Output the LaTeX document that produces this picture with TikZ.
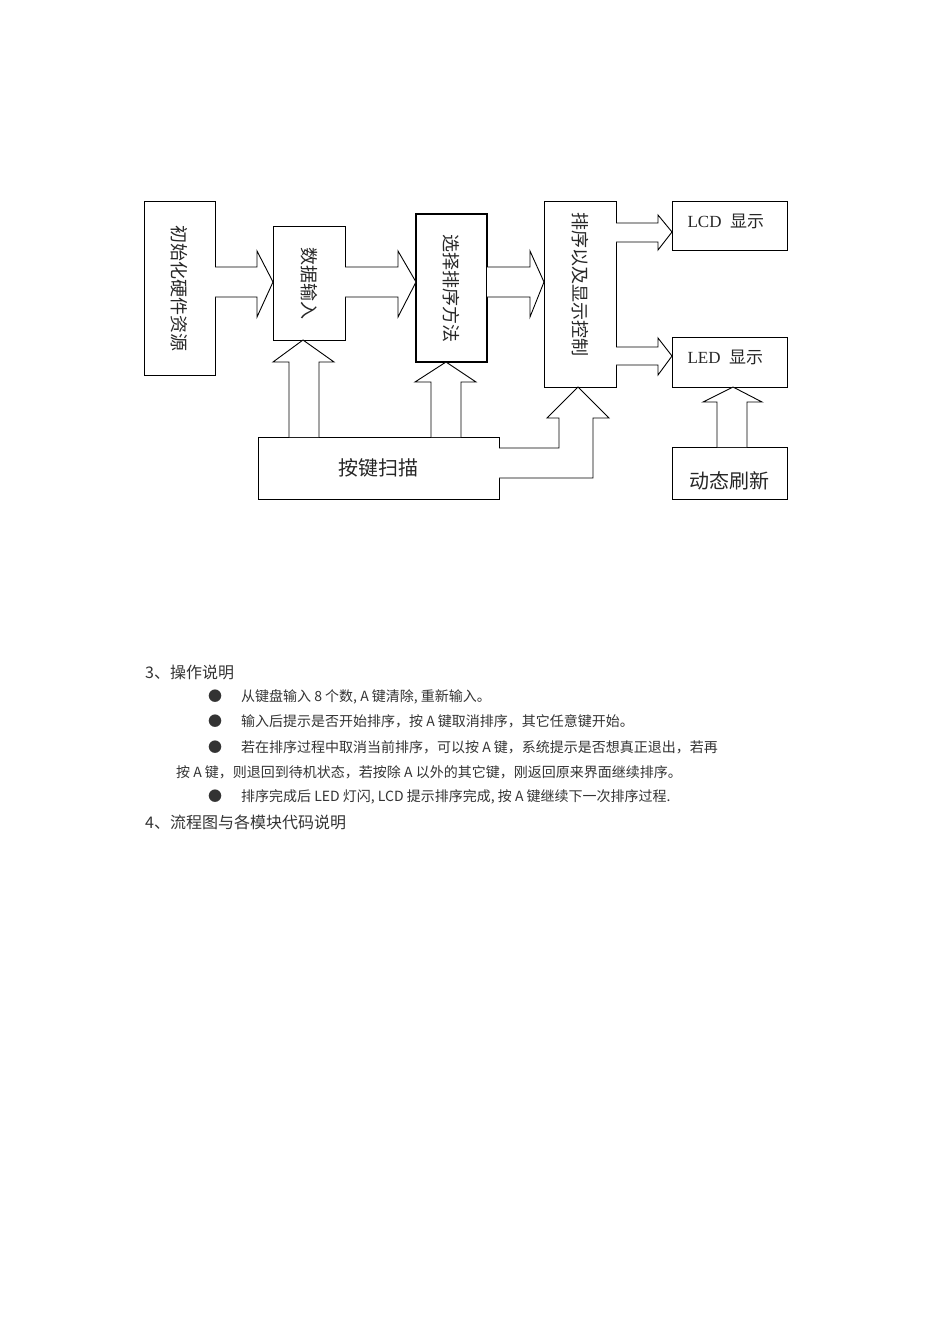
\documentclass[tikz,border=0pt]{standalone}
\usepackage{fontspec}
\setmainfont{Liberation Serif}
\newfontfamily\cjk{Noto Sans CJK SC}
\begin{document}
\begin{tikzpicture}[x=1pt,y=-1pt,
  box/.style={draw,line width=0.9pt,inner sep=0pt},
  vt/.style={rotate=-90,font=\cjk\fontsize{18}{18}\selectfont,text=black!85},
  ht/.style={font=\fontsize{17}{17}\selectfont,text=black!85},
  barrow/.style={draw,line width=0.9pt,fill=white,line join=miter},
  para/.style={anchor=west,font=\cjk\fontsize{14}{14}\selectfont,text=black!80,inner sep=0pt}]
\useasboundingbox (0,0) rectangle (950,1339);
% boxes
\draw[box] (144,201) rectangle (215,375);
\node[vt] (init) at (179.5,288) {初始化硬件资源};
\draw[box] (273,226) rectangle (345,340);
\node[vt] (data) at (309,283) {数据输入};
\draw[box,line width=1.8pt] (416,214) rectangle (487,362);
\node[vt] (sel) at (451.5,288) {选择排序方法};
\draw[box] (544,201) rectangle (616,387);
\node[vt] (sort) at (580,284) {排序以及显示控制};
\draw[box] (672,201) rectangle (787,250);
\node[ht,anchor=west] (lcd) at (684,221) {LCD\ \ {\cjk 显示}};
\draw[box] (672,337) rectangle (787,387);
\node[ht,anchor=west] (led) at (684,357) {LED\ \ {\cjk 显示}};
\draw[box] (258,437) rectangle (499,499);
\node[font=\cjk\fontsize{20}{20}\selectfont,text=black!85] (key) at (378,468) {按键扫描};
\draw[box] (672,447) rectangle (787,499);
\node[font=\cjk\fontsize{20}{20}\selectfont,text=black!85] (dyn) at (729.5,481) {动态刷新};
% horizontal block arrows
\draw[barrow] (215,267) -- (257,267) -- (257,251) -- (273,282) -- (257,317) -- (257,297) -- (215,297);
\draw[barrow] (345,267) -- (398,267) -- (398,251) -- (416,282) -- (398,317) -- (398,297) -- (345,297);
\draw[barrow] (487,267) -- (530,267) -- (530,251) -- (544,282) -- (530,317) -- (530,297) -- (487,297);
\draw[barrow] (616,223) -- (658,223) -- (658,215) -- (672,232) -- (658,250) -- (658,242) -- (616,242);
\draw[barrow] (616,347) -- (658,347) -- (658,338) -- (672,356) -- (658,375) -- (658,365) -- (616,365);
% vertical block arrows
\draw[barrow] (289,437) -- (289,362) -- (273,362) -- (303,340) -- (334,362) -- (319,362) -- (319,437);
\draw[barrow] (431,437) -- (431,382) -- (415,382) -- (446,362) -- (476,382) -- (461,382) -- (461,437);
\draw[barrow] (499,448) -- (559,448) -- (559,418) -- (547,418) -- (578,387) -- (609,418) -- (593,418) -- (593,478) -- (499,478);
\draw[barrow] (717,447) -- (717,402) -- (703,402) -- (733,387) -- (762,402) -- (747,402) -- (747,447);
% text
\node[para,font=\cjk\fontsize{16}{16}\selectfont] (h3) at (145,672) {3、操作说明};
\node[para] (b1) at (208,697) {●\hspace{19pt}从键盘输入 8 个数, A 键清除, 重新输入。};
\node[para] (b2) at (208,721) {●\hspace{19pt}输入后提示是否开始排序，按 A 键取消排序，其它任意键开始。};
\node[para] (b3) at (208,747) {●\hspace{19pt}若在排序过程中取消当前排序，可以按 A 键，系统提示是否想真正退出，若再};
\node[para] (b3b) at (176,772) {按 A 键，则退回到待机状态，若按除 A 以外的其它键，刚返回原来界面继续排序。};
\node[para] (b4) at (208,797) {●\hspace{19pt}排序完成后 LED 灯闪, LCD 提示排序完成, 按 A 键继续下一次排序过程.};
\node[para,font=\cjk\fontsize{16}{16}\selectfont] (h4) at (145,822) {4、流程图与各模块代码说明};
\end{tikzpicture}
\end{document}
